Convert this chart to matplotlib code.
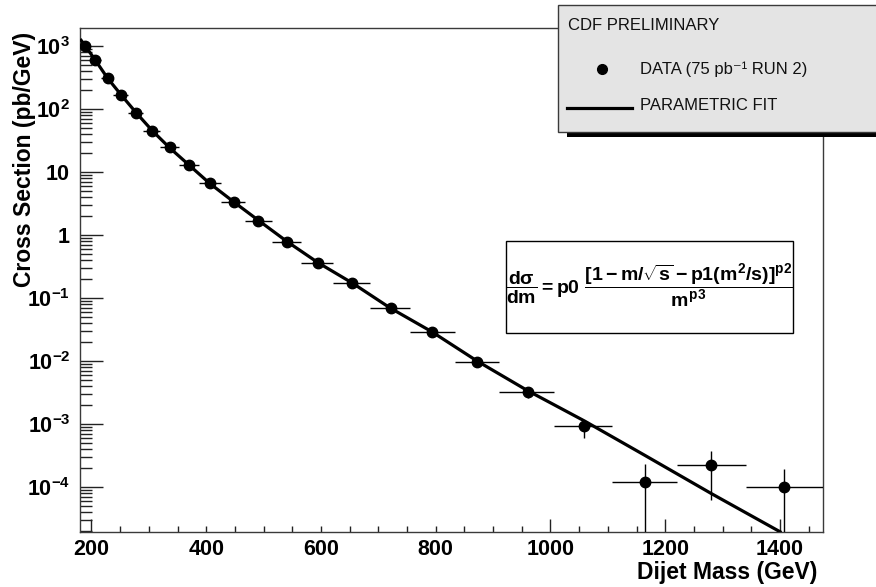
import numpy as np
import matplotlib
matplotlib.use("Agg")
import matplotlib.pyplot as plt
from matplotlib.patches import Rectangle
from matplotlib.lines import Line2D
from matplotlib.ticker import LogLocator, FixedLocator, MultipleLocator, FuncFormatter, NullFormatter

plt.rcParams["font.family"] = ["Liberation Sans", "DejaVu Sans"]
plt.rcParams["mathtext.fontset"] = "custom"
plt.rcParams["mathtext.rm"] = "Liberation Sans:bold"
plt.rcParams["mathtext.it"] = "Liberation Sans:bold"
plt.rcParams["mathtext.bf"] = "Liberation Sans:bold"
plt.rcParams["mathtext.sf"] = "Liberation Sans:bold"

# Dijet mass bins (GeV)
bin_lo = [180, 197, 217, 238, 263, 290, 320, 352, 387, 425, 467, 514, 565, 621,
          686, 756, 833, 910, 1007, 1108, 1220, 1340]
bin_hi = [197, 217, 238, 263, 290, 320, 352, 387, 425, 467, 514, 565, 621, 686,
          756, 833, 910, 1007, 1108, 1220, 1340, 1475]
mass = [189, 207, 228, 252, 277, 305, 337, 370, 406, 448, 491, 540, 594, 654,
        722, 794, 872, 960, 1058, 1165, 1280, 1407]

# Measured cross section (pb/GeV) with asymmetric uncertainties
xsec = [1000, 590, 307, 167, 86, 45, 24.5, 12.9, 6.6, 3.35, 1.68, 0.78, 0.365,
        0.172, 0.070, 0.029, 0.0096, 0.0032, 0.00093, 1.18e-4, 2.2e-4, 9.9e-5]
err_up = [20, 12, 6, 3.5, 1.8, 1.0, 0.6, 0.35, 0.2, 0.12, 0.07, 0.04, 0.022,
          0.012, 0.006, 0.003, 0.0012, 0.0006, 0.00024, 1.17e-4, 1.5e-4, 9.1e-5]
err_dn = [20, 12, 6, 3.5, 1.8, 1.0, 0.6, 0.35, 0.2, 0.12, 0.07, 0.04, 0.022,
          0.012, 0.006, 0.003, 0.0012, 0.0006, 0.00033, 1.1799e-4, 1.58e-4, 9.89e-5]

# Parametric fit curve
fit_mass = [182, 190, 207, 228, 252, 278, 306, 336, 370, 406, 448, 492, 541,
            595, 655, 720, 793, 872, 960, 1059, 1165, 1280, 1400]
fit_xsec = [1230, 980, 590, 309, 166, 87, 45.2, 24.3, 12.9, 6.6, 3.35, 1.68,
            0.785, 0.363, 0.172, 0.07, 0.0292, 0.0100, 0.00339, 0.00112,
            3.16e-4, 7.9e-5, 1.95e-5]

x_major = [200, 400, 600, 800, 1000, 1200, 1400]
x_tall = [200, 1000, 1200, 1400]
y_decades = [1e-4, 1e-3, 1e-2, 1e-1, 1, 10, 100, 1000]

W, H = 876, 587
fig = plt.figure(figsize=(W / 100, H / 100), dpi=100)


def fx(px):
    return px / W


def fy(py):
    return 1 - py / H


ax = fig.add_axes([fx(80), fy(532), fx(823) - fx(80), fy(28) - fy(532)])
ax.set_yscale("log")
ax.set_xlim(180, 1475)
ax.set_ylim(1.93e-5, 1930)

m = np.array(mass, float)
ax.errorbar(m, xsec,
            xerr=[m - np.array(bin_lo), np.array(bin_hi) - m],
            yerr=[err_dn, err_up],
            fmt="o", color="black", ms=7.5, elinewidth=1.0, capsize=0, zorder=3)
ax.plot(fit_mass, fit_xsec, color="black", lw=2.3, zorder=4)

for s in ax.spines.values():
    s.set_color("#3a3a3a")
    s.set_linewidth(1.0)

# y axis: decade labels, inward ticks
ax.yaxis.set_major_locator(FixedLocator(y_decades))
ax.yaxis.set_minor_locator(LogLocator(base=10, subs=np.arange(2, 10), numticks=200))
ax.yaxis.set_minor_formatter(NullFormatter())


def ylab(v, pos):
    e = int(round(np.log10(v)))
    if e == 0:
        return r"$\mathbf{1}\ \ $"
    if e == 1:
        return r"$\mathbf{10}\ \ $"
    return r"$\mathbf{10^{%d}}$" % e


ax.yaxis.set_major_formatter(FuncFormatter(ylab))
ax.tick_params(axis="y", which="major", direction="in", length=16.5, width=1,
               pad=7, labelsize=15.5, color="#222")
ax.tick_params(axis="y", which="minor", direction="in", length=8.5, width=1,
               color="#222")

# x axis
ax.xaxis.set_major_locator(FixedLocator(x_major))
ax.xaxis.set_minor_locator(MultipleLocator(50))
ax.tick_params(axis="x", which="major", direction="in", length=4.3, width=1,
               pad=5, labelsize=15.5, color="#222")
ax.tick_params(axis="x", which="minor", direction="in", length=4.3, width=1,
               color="#222")
for t in ax.xaxis.get_ticklabels():
    t.set_fontweight("bold")
ticks = ax.xaxis.get_major_ticks(len(x_major))
for loc, t in zip(x_major, ticks):
    if loc in x_tall:
        t.tick1line.set_markersize(9.4)

ax.set_xlabel("Dijet Mass (GeV)", fontsize=16.5, fontweight="bold")
ax.xaxis.set_label_coords(0.992, -(572 - 532) / 504)
ax.xaxis.label.set_ha("right")
ax.xaxis.label.set_va("center")
ax.set_ylabel("Cross Section (pb/GeV)", fontsize=16.5, fontweight="bold")
ax.yaxis.set_label_coords(-(80 - 25) / 743, 0.992)
ax.yaxis.label.set_ha("right")
ax.yaxis.label.set_va("center")

# formula box
ax.add_artist(Rectangle((fx(506), fy(333)), fx(793) - fx(506), fy(241) - fy(333),
                        transform=fig.transFigure, facecolor="white",
                        edgecolor="black", lw=1.0, zorder=5, clip_on=False))
fig.text(fx(650), fy(286),
         r"$\dfrac{d\sigma}{dm} = p0\ \dfrac{[1 - m/\sqrt{s} - p1(m^2/s)]^{p2}}{m^{p3}}$",
         fontsize=14, ha="center", va="center", zorder=6)

# legend panel
fig.patches.append(Rectangle((fx(567), fy(137)), fx(900) - fx(567), fy(10) - fy(137),
                             transform=fig.transFigure, facecolor="black",
                             edgecolor="none", zorder=1))
fig.patches.append(Rectangle((fx(558), fy(132)), fx(900) - fx(558), fy(5) - fy(132),
                             transform=fig.transFigure, facecolor="#e4e4e4",
                             edgecolor="#3a3a3a", lw=1.0, zorder=2))
fig.text(fx(568), fy(25), "CDF PRELIMINARY", fontsize=12, ha="left",
         va="center", color="#111", zorder=3)
fig.lines.append(Line2D([fx(602)], [fy(69)], transform=fig.transFigure,
                        marker="o", ms=7, color="black", ls="none", zorder=3))
fig.text(fx(640), fy(69), "DATA (75 pb\u207b\u00b9 RUN 2)", fontsize=12,
         ha="left", va="center", color="#111", zorder=3)
fig.lines.append(Line2D([fx(567), fx(632)], [fy(108), fy(108)],
                        transform=fig.transFigure, color="black", lw=2.3, zorder=3))
fig.text(fx(640), fy(106), "PARAMETRIC FIT", fontsize=12, ha="left",
         va="center", color="#111", zorder=3)

fig.savefig("out.png", dpi=100)
